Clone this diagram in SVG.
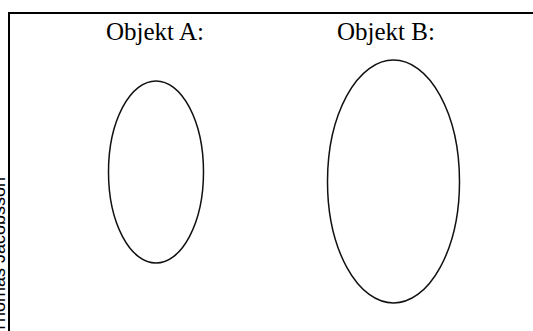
<svg xmlns="http://www.w3.org/2000/svg" width="533" height="331" viewBox="0 0 533 331">
  <style>
    .frame { fill: none; stroke: #000; stroke-width: 2; }
    .obj { fill: none; stroke: #111; stroke-width: 1.5; }
    .lbl { font-family: "Liberation Serif", "Times New Roman", serif; font-size: 25px; fill: #000; }
    .side { font-family: "Liberation Sans", Arial, sans-serif; font-size: 18px; fill: #000; }
  </style>
  <rect width="533" height="331" fill="#fff"/>
  <g id="frame">
    <path class="frame" d="M9,340 V13 H540"/>
  </g>
  <g id="side-label">
    <text class="side" transform="translate(4.5,177) rotate(-90)" text-anchor="end">Thomas Jacobsson</text>
  </g>
  <g id="objekt-a">
    <text class="lbl" x="106" y="40">Objekt A:</text>
    <ellipse class="obj" cx="156" cy="172" rx="47.5" ry="91"/>
  </g>
  <g id="objekt-b">
    <text class="lbl" x="337" y="40">Objekt B:</text>
    <ellipse class="obj" cx="393.5" cy="181.5" rx="66" ry="121.5"/>
  </g>
  <g id="connectors"/>
</svg>
